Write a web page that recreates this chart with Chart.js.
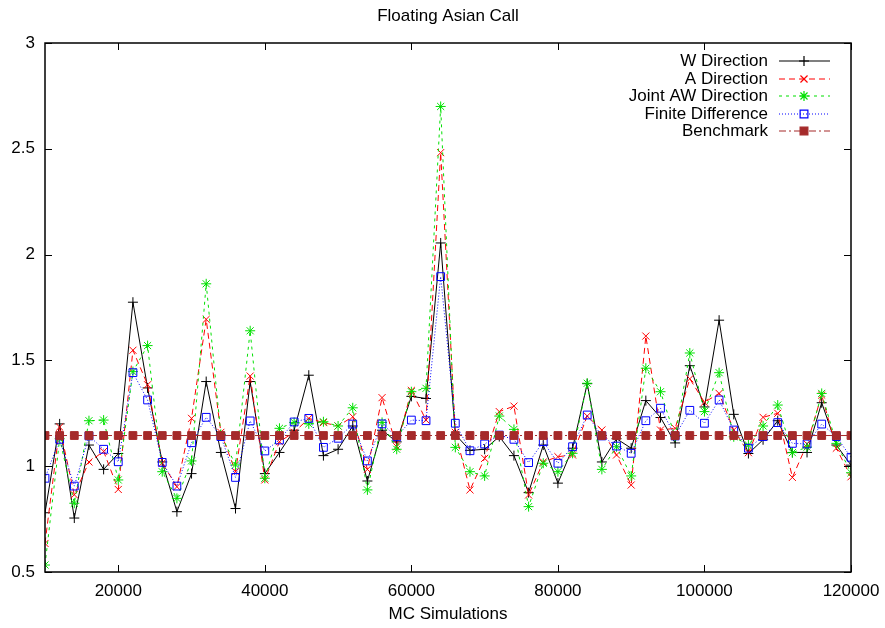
<!DOCTYPE html>
<html>
<head>
<meta charset="utf-8">
<script src="https://cdn.jsdelivr.net/npm/chart.js@4.4.0/dist/chart.umd.min.js"></script>
<style>
    html, body { margin: 0; padding: 0; background: #fff; }
</style>
</head>
<body>
<canvas id="chart_asian" width="885" height="628"></canvas>
<script>
// MC simulation counts (x axis)
var mcSims = [10000, 12000, 14000, 16000, 18000, 20000, 22000, 24000, 26000, 28000,
    30000, 32000, 34000, 36000, 38000, 40000, 42000, 44000, 46000, 48000,
    50000, 52000, 54000, 56000, 58000, 60000, 62000, 64000, 66000, 68000,
    70000, 72000, 74000, 76000, 78000, 80000, 82000, 84000, 86000, 88000,
    90000, 92000, 94000, 96000, 98000, 100000, 102000, 104000, 106000, 108000,
    110000, 112000, 114000, 116000, 118000, 120000];

var wDirection = [0.78, 1.20, 0.755, 1.10, 0.985, 1.06, 1.775, 1.37, 1.02, 0.785,
    0.965, 1.40, 1.065, 0.80, 1.40, 0.965, 1.065, 1.17, 1.43, 1.05,
    1.08, 1.19, 0.93, 1.17, 1.115, 1.33, 1.32, 2.055, 1.15, 1.075,
    1.08, 1.14, 1.05, 0.875, 1.10, 0.92, 1.085, 1.39, 1.02, 1.13,
    1.085, 1.31, 1.23, 1.11, 1.475, 1.28, 1.69, 1.245, 1.06, 1.125,
    1.215, 1.065, 1.065, 1.30, 1.10, 1.005];

var aDirection = [0.635, 1.185, 0.865, 1.02, 1.07, 0.89, 1.548, 1.385, 1.015, 0.903,
    1.226, 1.694, 1.16, 0.974, 1.426, 0.935, 1.116, 1.16, 1.226, 1.206,
    1.19, 1.234, 0.985, 1.324, 1.092, 1.358, 1.218, 2.482, 1.16, 0.888,
    1.037, 1.258, 1.284, 0.864, 1.02, 1.045, 1.053, 1.237, 1.171, 1.053,
    0.911, 1.615, 1.171, 1.179, 1.413, 1.302, 1.344, 1.171, 1.064, 1.231,
    1.25, 0.947, 1.105, 1.336, 1.085, 0.95];

var jointAW = [0.533, 1.13, 0.825, 1.215, 1.218, 0.935, 1.447, 1.57, 0.974, 0.848,
    1.025, 1.862, 1.15, 1.006, 1.64, 0.943, 1.179, 1.207, 1.2, 1.21,
    1.19, 1.276, 0.888, 1.207, 1.08, 1.352, 1.368, 2.70, 1.089, 0.974,
    0.954, 1.237, 1.174, 0.809, 1.014, 0.974, 1.061, 1.392, 0.985, 1.092,
    0.954, 1.463, 1.352, 1.14, 1.535, 1.258, 1.442, 1.139, 1.10, 1.19,
    1.289, 1.064, 1.09, 1.344, 1.108, 0.969];

var finiteDiff = [0.943, 1.127, 0.906, 1.143, 1.08, 1.021, 1.442, 1.313, 1.018, 0.906,
    1.111, 1.231, 1.14, 0.947, 1.214, 1.072, 1.124, 1.209, 1.226, 1.089,
    1.132, 1.199, 1.025, 1.20, 1.139, 1.218, 1.215, 1.896, 1.203, 1.073,
    1.105, 1.147, 1.127, 1.017, 1.116, 1.014, 1.092, 1.242, 1.143, 1.095,
    1.061, 1.215, 1.274, 1.143, 1.264, 1.203, 1.313, 1.171, 1.085, 1.14,
    1.206, 1.108, 1.105, 1.199, 1.14, 1.042];

var benchmark = [1.145, 1.145, 1.145, 1.145, 1.145, 1.145, 1.145, 1.145, 1.145, 1.145,
    1.145, 1.145, 1.145, 1.145, 1.145, 1.145, 1.145, 1.145, 1.145, 1.145,
    1.145, 1.145, 1.145, 1.145, 1.145, 1.145, 1.145, 1.145, 1.145, 1.145,
    1.145, 1.145, 1.145, 1.145, 1.145, 1.145, 1.145, 1.145, 1.145, 1.145,
    1.145, 1.145, 1.145, 1.145, 1.145, 1.145, 1.145, 1.145, 1.145, 1.145,
    1.145, 1.145, 1.145, 1.145, 1.145, 1.145];

var xTicks = [20000, 40000, 60000, 80000, 100000, 120000];
var yTicks = [0.5, 1, 1.5, 2, 2.5, 3];

var FONT = "'Liberation Sans', Arial, sans-serif";
var FONT_SIZE = 17;

function toPoints(values) {
    return values.map(function (v, i) {
        return { x: mcSims[i], y: v };
    });
}

var seriesStyle = [
    { label: "W Direction", data: wDirection, color: "#000000", dash: [], point: "cross", radius: 5, fill: false },
    { label: "A Direction", data: aDirection, color: "#ff0000", dash: [6, 4], point: "crossRot", radius: 5, fill: false },
    { label: "Joint AW Direction", data: jointAW, color: "#00e000", dash: [3, 4], point: "star", radius: 5, fill: false },
    { label: "Finite Difference", data: finiteDiff, color: "#0000ff", dash: [1, 2], point: "rect", radius: 5.5, fill: false },
    { label: "Benchmark", data: benchmark, color: "#a52a2a", dash: [7, 3, 2, 3], point: "rect", radius: 5.5, fill: true }
];

var datasets = seriesStyle.map(function (s, i) {
    return {
        label: s.label,
        data: toPoints(s.data),
        borderColor: s.color,
        borderWidth: 1,
        borderDash: s.dash,
        pointStyle: s.point,
        pointRadius: s.radius,
        pointBorderWidth: 1,
        pointBorderColor: s.color,
        pointBackgroundColor: s.fill ? s.color : "rgba(0,0,0,0)",
        tension: 0,
        fill: false,
        order: seriesStyle.length - i
    };
});

// key marker, same shapes as the points
function keyMarker(ctx, s, x, y) {
    var r = s.radius;
    var d = r * Math.SQRT1_2;
    ctx.beginPath();
    if (s.point === "cross" || s.point === "star") {
        ctx.moveTo(x - r, y); ctx.lineTo(x + r, y);
        ctx.moveTo(x, y - r); ctx.lineTo(x, y + r);
    }
    if (s.point === "crossRot" || s.point === "star") {
        ctx.moveTo(x - d, y - d); ctx.lineTo(x + d, y + d);
        ctx.moveTo(x - d, y + d); ctx.lineTo(x + d, y - d);
    }
    if (s.point === "rect") {
        ctx.rect(x - d, y - d, 2 * d, 2 * d);
        if (s.fill) {
            ctx.fillStyle = s.color;
            ctx.fill();
        }
    }
    ctx.strokeStyle = s.color;
    ctx.stroke();
}

// box frame with inward ticks, title and a gnuplot style key
var framePlugin = {
    id: "frame",
    afterDraw: function (chart) {
        var ctx = chart.ctx;
        var a = chart.chartArea;
        var xs = chart.scales.x;
        var ys = chart.scales.y;
        ctx.save();
        ctx.strokeStyle = "#000";
        ctx.lineWidth = 1.5;
        ctx.setLineDash([]);
        ctx.strokeRect(a.left, a.top, a.right - a.left, a.bottom - a.top);
        ctx.lineWidth = 1;
        ctx.beginPath();
        xTicks.forEach(function (v) {
            var px = Math.round(xs.getPixelForValue(v)) + 0.5;
            ctx.moveTo(px, a.bottom);
            ctx.lineTo(px, a.bottom - 7);
            ctx.moveTo(px, a.top);
            ctx.lineTo(px, a.top + 7);
        });
        yTicks.forEach(function (v) {
            var py = Math.round(ys.getPixelForValue(v)) + 0.5;
            ctx.moveTo(a.left, py);
            ctx.lineTo(a.left + 7, py);
            ctx.moveTo(a.right, py);
            ctx.lineTo(a.right - 7, py);
        });
        ctx.stroke();

        // title
        ctx.fillStyle = "#000";
        ctx.font = FONT_SIZE + "px " + FONT;
        ctx.textAlign = "center";
        ctx.textBaseline = "middle";
        ctx.fillText("Floating Asian Call", (a.left + a.right) / 2, 16);

        // key
        ctx.textAlign = "right";
        seriesStyle.forEach(function (s, i) {
            var y = Math.round(61 + i * 17.5);
            ctx.fillStyle = "#000";
            ctx.fillText(s.label, 768, y);
            ctx.lineWidth = 1.2;
            ctx.setLineDash(s.dash);
            ctx.strokeStyle = s.color;
            ctx.beginPath();
            ctx.moveTo(779, y);
            ctx.lineTo(830, y);
            ctx.stroke();
            ctx.setLineDash([]);
            ctx.lineWidth = 1.2;
            keyMarker(ctx, s, 804, y);
        });
        ctx.restore();
    }
};

var chartAsian = new Chart(document.getElementById("chart_asian").getContext("2d"), {
    type: "line",
    data: { datasets: datasets },
    options: {
        responsive: false,
        animation: false,
        layout: {
            padding: { top: 43, right: 34, left: 0, bottom: 0 }
        },
        plugins: {
            legend: { display: false },
            title: { display: false },
            tooltip: { enabled: false }
        },
        scales: {
            x: {
                type: "linear",
                min: 10000,
                max: 120000,
                afterBuildTicks: function (scale) {
                    scale.ticks = xTicks.map(function (v) { return { value: v }; });
                },
                afterFit: function (scale) {
                    scale.height = 56;
                    scale.paddingLeft = 0;
                    scale.paddingRight = 0;
                },
                ticks: {
                    color: "#000",
                    font: { family: FONT, size: FONT_SIZE },
                    padding: 9,
                    maxRotation: 0,
                    autoSkip: false,
                    callback: function (v) { return String(v); }
                },
                grid: { display: false, drawTicks: false },
                border: { display: false },
                title: {
                    display: true,
                    text: "MC Simulations",
                    color: "#000",
                    font: { family: FONT, size: FONT_SIZE },
                    padding: { top: 0, bottom: 3 }
                }
            },
            y: {
                min: 0.5,
                max: 3,
                afterBuildTicks: function (scale) {
                    scale.ticks = yTicks.map(function (v) { return { value: v }; });
                },
                afterFit: function (scale) {
                    scale.width = 45;
                    scale.paddingTop = 0;
                    scale.paddingBottom = 0;
                },
                ticks: {
                    color: "#000",
                    font: { family: FONT, size: FONT_SIZE },
                    padding: 10,
                    callback: function (v) { return String(v); }
                },
                grid: { display: false, drawTicks: false },
                border: { display: false }
            }
        }
    },
    plugins: [framePlugin]
});
</script>
</body>
</html>
